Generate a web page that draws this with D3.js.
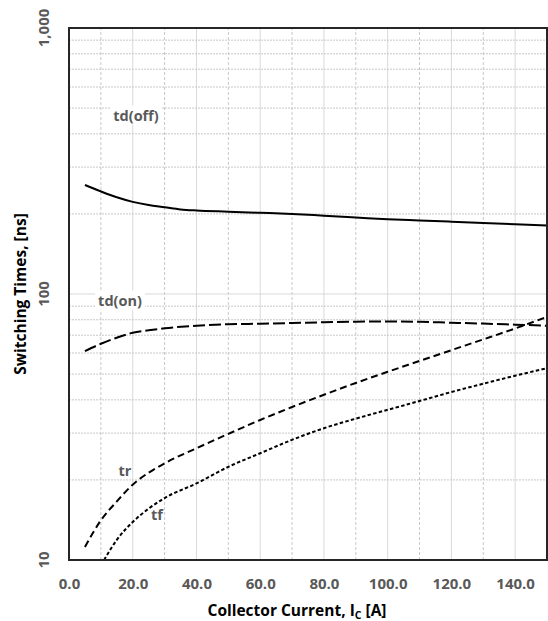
<!DOCTYPE html>
<html>
<head>
<meta charset="utf-8">
<script src="https://cdn.jsdelivr.net/npm/d3@7"></script>
<style>
  html, body { margin: 0; padding: 0; background: #fff; }
  svg { display: block; }
  text { font-family: "Open Sans", Lato, sans-serif; font-weight: 700; }
</style>
</head>
<body>
<svg id="chart" width="548" height="621"></svg>
<script>
// Switching times vs collector current (ns, log scale)
const xTicks = [0, 20, 40, 60, 80, 100, 120, 140];
const yTicks = [10, 100, 1000];

const tdOffCurrent = [5, 10, 15, 20, 25, 30, 35, 40, 50, 60, 70, 80, 90, 100, 110, 120, 130, 140, 150];
const tdOffTime    = [257, 243, 231, 222, 216, 212, 208, 206, 204, 202, 200, 197, 194, 191, 189, 187, 185, 183, 181];

const tdOnCurrent = [5, 10, 15, 20, 25, 30, 40, 50, 60, 70, 80, 90, 100, 110, 120, 130, 140, 150];
const tdOnTime    = [61, 65, 68.5, 71.5, 73, 74.3, 76, 77, 77.3, 77.8, 78.3, 78.7, 78.8, 78.6, 78, 77.4, 76.7, 76];

const trCurrent = [5, 10, 15, 20, 25, 30, 40, 50, 60, 70, 80, 90, 100, 110, 120, 130, 140, 150];
const trTime    = [11.2, 14.1, 16.6, 19.2, 21.3, 23.1, 26.3, 29.8, 33.6, 37.6, 41.8, 46.3, 51, 56, 61.5, 67.5, 74.2, 82];

const tfCurrent = [11, 15, 20, 25, 30, 40, 50, 60, 70, 80, 90, 100, 110, 120, 130, 140, 150];
const tfTime    = [10, 11.9, 13.9, 15.6, 17.1, 19.4, 22.4, 25.2, 28.3, 31.3, 34, 36.7, 39.6, 42.8, 46, 49.3, 52.6];

const seriesNames = ["td(off)", "td(on)", "tr", "tf"];

const margin = { left: 69, top: 28, right: 1, bottom: 61 };
const W = 548, H = 621;
const svg = d3.select("#chart");

const x = d3.scaleLinear().domain([0, 150]).range([margin.left, W - margin.right]);
const y = d3.scaleLog().domain([10, 1000]).range([H - margin.bottom, margin.top]);

const grid = svg.append("g");

// vertical grid: solid every 20, dashed between
d3.range(10, 150, 10).forEach(v => {
  const major = v % 20 === 0;
  grid.append("line")
    .attr("x1", x(v)).attr("x2", x(v))
    .attr("y1", y(10)).attr("y2", y(1000))
    .attr("stroke", major ? "#d9d9d9" : "#c8c8c8")
    .attr("stroke-width", 1)
    .attr("stroke-dasharray", major ? null : "3,2");
});

// horizontal grid: minor dotted, decade solid
[10, 100].forEach(dec => {
  d3.range(2, 10).forEach(m => {
    const v = dec * m;
    grid.append("line")
      .attr("x1", x(0)).attr("x2", x(150))
      .attr("y1", y(v)).attr("y2", y(v))
      .attr("stroke", "#c8c8c8")
      .attr("stroke-width", 1)
      .attr("stroke-dasharray", "2,1");
  });
});
grid.append("line")
  .attr("x1", x(0)).attr("x2", x(150))
  .attr("y1", y(100)).attr("y2", y(100))
  .attr("stroke", "#d9d9d9").attr("stroke-width", 1);

// curves
const line = d3.line()
  .x(d => x(d[0])).y(d => y(d[1]))
  .curve(d3.curveMonotoneX);

const series = [
  { c: tdOffCurrent, t: tdOffTime, dash: null },
  { c: tdOnCurrent,  t: tdOnTime,  dash: "12,4" },
  { c: trCurrent,    t: trTime,    dash: "7,4" },
  { c: tfCurrent,    t: tfTime,    dash: "3.5,2.3" }
];

const plot = svg.append("g");
series.forEach(s => {
  plot.append("path")
    .datum(s.c.map((c, i) => [c, s.t[i]]))
    .attr("d", line)
    .attr("fill", "none")
    .attr("stroke", "#000")
    .attr("stroke-width", 2)
    .attr("stroke-dasharray", s.dash);
});

// series labels with white backing
const labelPos = [
  { x: 136, y: 115 },
  { x: 120, y: 300 },
  { x: 125, y: 470 },
  { x: 157, y: 514 }
];
seriesNames.forEach((name, i) => {
  const g = svg.append("g");
  const t = g.append("text")
    .attr("x", labelPos[i].x).attr("y", labelPos[i].y)
    .attr("text-anchor", "middle")
    .attr("dominant-baseline", "central")
    .attr("font-size", 14.5)
    .attr("fill", "#595959")
    .text(name);
  if (i < 2) {
    const b = t.node().getBBox();
    g.insert("rect", "text")
      .attr("x", b.x - 3).attr("y", b.y)
      .attr("width", b.width + 6).attr("height", b.height)
      .attr("fill", "#fff");
  }
});

// frame
svg.append("rect")
  .attr("x", x(0)).attr("y", y(1000))
  .attr("width", x(150) - x(0)).attr("height", y(10) - y(1000))
  .attr("fill", "none").attr("stroke", "#262626").attr("stroke-width", 2);

// x axis labels
const xAxis = d3.axisBottom(x).tickValues(xTicks).tickSize(0)
  .tickFormat(d3.format(".1f"));
const gx = svg.append("g").attr("transform", `translate(0,${y(10)})`).call(xAxis);
gx.select(".domain").remove();
gx.selectAll("text").attr("font-size", 15).attr("fill", "#595959")
  .attr("font-family", "'Open Sans', sans-serif").attr("font-weight", 700)
  .attr("dy", "0.35em").attr("y", 24);

// y axis labels (rotated)
const yFmt = d3.format(",");
svg.append("g").selectAll("text").data(yTicks).join("text")
  .attr("transform", d => `translate(49,${y(d)}) rotate(-90)`)
  .attr("text-anchor", "middle")
  .attr("font-size", 15)
  .attr("fill", "#595959")
  .text(d => yFmt(d));

// axis titles
const xt = svg.append("text")
  .attr("x", 297).attr("y", 616)
  .attr("text-anchor", "middle")
  .attr("font-size", 15.5)
  .attr("fill", "#000");
xt.append("tspan").text("Collector Current, I");
xt.append("tspan").attr("font-size", 10.5).attr("dy", 3).text("C");
xt.append("tspan").attr("dy", -3).text(" [A]");

svg.append("text")
  .attr("transform", `translate(26,294) rotate(-90)`)
  .attr("text-anchor", "middle")
  .attr("font-size", 15.5)
  .attr("fill", "#000")
  .text("Switching Times, [ns]");
</script>
</body>
</html>
